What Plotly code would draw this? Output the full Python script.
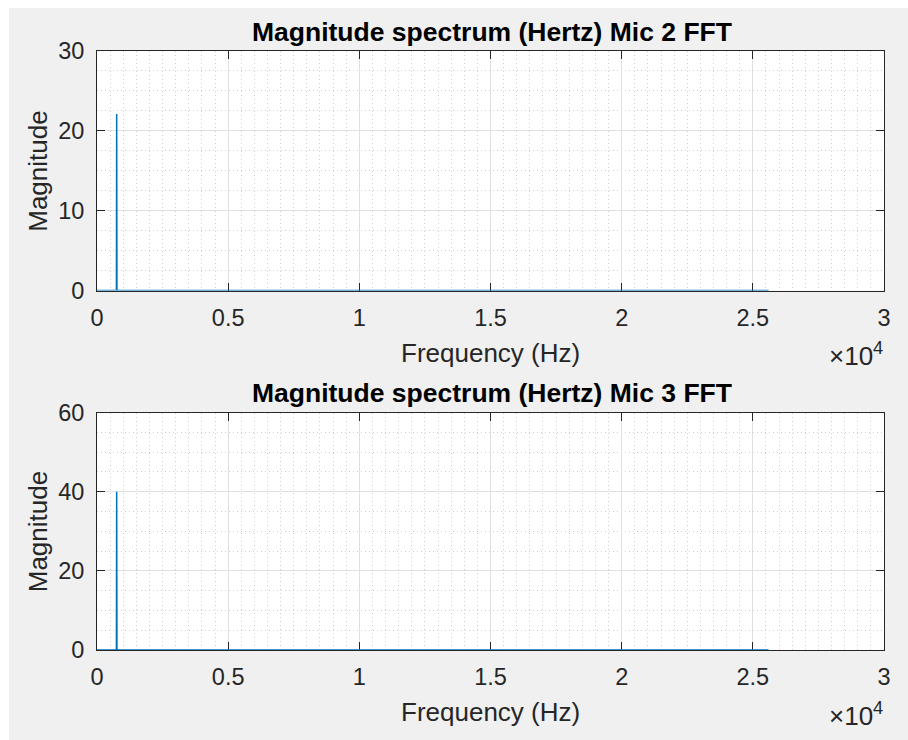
import plotly.graph_objects as go

# ---------------- data ----------------
freq_mic2 = [0, 740, 750, 760, 25600]
mag_mic2 = [0, 0, 22.1, 0, 0]
freq_mic3 = [0, 740, 750, 760, 25600]
mag_mic3 = [0, 0, 40.0, 0, 0]

x_tickvals = [0, 5000, 10000, 15000, 20000, 25000, 30000]
x_ticktext = ["0", "0.5", "1", "1.5", "2", "2.5", "3"]
y1_tickvals = [0, 10, 20, 30]
y2_tickvals = [0, 20, 40, 60]

titles = ["Magnitude spectrum (Hertz) Mic 2 FFT", "Magnitude spectrum (Hertz) Mic 3 FFT"]
xlabel = "Frequency (Hz)"
ylabel = "Magnitude"
exponent = "\u00d710<sup>4</sup>"

# ---------------- layout helpers ----------------
W, H = 908, 740
ML, MR, MT, MB = 97, 24, 51, 90
PW, PH = W - ML - MR, H - MT - MB


def px_x(x):
    return (x - ML) / PW


def px_y(y):
    return (H - MB - y) / PH


FONT = "Liberation Sans, Arial, sans-serif"
AX = "#262626"
BLUE = "#0072BD"
MINOR = "#CFCFCF"
MAJOR = "#E0E0E0"

fig = go.Figure()
fig.add_trace(go.Scatter(x=freq_mic2, y=mag_mic2, mode="lines",
                         line=dict(color=BLUE, width=1.5), xaxis="x", yaxis="y",
                         showlegend=False))
fig.add_trace(go.Scatter(x=freq_mic3, y=mag_mic3, mode="lines",
                         line=dict(color=BLUE, width=1.5), xaxis="x2", yaxis="y2",
                         showlegend=False))

top_bottom_px = 290.5
bot_top_px = 412.5


def xaxis(anchor):
    return dict(
        domain=[0, 1], anchor=anchor, range=[0, 30000],
        tickvals=x_tickvals, ticktext=x_ticktext,
        ticks="inside", ticklen=8, tickcolor=AX, tickwidth=1,
        showline=True, linecolor=AX, linewidth=1, mirror="ticks",
        showgrid=True, gridcolor=MAJOR, gridwidth=1,
        minor=dict(dtick=500, showgrid=True, gridcolor=MINOR, griddash="1px,3px",
                   gridwidth=1, ticks=""),
        zeroline=False, layer="below traces",
        tickfont=dict(family=FONT, size=23.5, color=AX),
        ticklabelstandoff=6,
    )


def yaxis(anchor, domain, rng, tv, minor_dt):
    return dict(
        domain=domain, anchor=anchor, range=rng,
        tickvals=tv,
        ticks="inside", ticklen=8, tickcolor=AX, tickwidth=1,
        showline=True, linecolor=AX, linewidth=1, mirror="ticks",
        showgrid=True, gridcolor=MAJOR, gridwidth=1,
        minor=dict(dtick=minor_dt, showgrid=True, gridcolor=MINOR, griddash="1px,3px",
                   gridwidth=1, ticks=""),
        zeroline=False, layer="below traces",
        tickfont=dict(family=FONT, size=23.5, color=AX),
        ticklabelstandoff=7,
    )


fig.update_layout(
    width=W, height=H,
    margin=dict(l=ML, r=MR, t=MT, b=MB, pad=0),
    paper_bgcolor="#F0F0F0", plot_bgcolor="white",
    xaxis=xaxis("y"),
    yaxis=yaxis("x", [px_y(top_bottom_px), 1], [0, 30], y1_tickvals, 2.5),
    xaxis2=xaxis("y2"),
    yaxis2=yaxis("x2", [0, px_y(bot_top_px)], [0, 60], y2_tickvals, 5),
    showlegend=False,
)

# white border strips (top and left) of the screenshot
fig.add_shape(type="rect", xref="paper", yref="paper",
              x0=px_x(0), x1=px_x(9), y0=px_y(H + 5), y1=px_y(-5),
              fillcolor="white", line=dict(width=0), layer="below")
fig.add_shape(type="rect", xref="paper", yref="paper",
              x0=px_x(0), x1=px_x(W + 5), y0=px_y(8), y1=px_y(-5),
              fillcolor="white", line=dict(width=0), layer="below")

annots = []
plots = [(51.0, 290.5), (412.5, 650.0)]
for i, (ytop, ybot) in enumerate(plots):
    annots.append(dict(text="<b>" + titles[i] + "</b>", xref="paper", yref="paper",
                       x=px_x(492), y=px_y(ytop - 19), xanchor="center", yanchor="middle",
                       showarrow=False, font=dict(family=FONT, size=26.5, color="black")))
    annots.append(dict(text=xlabel, xref="paper", yref="paper",
                       x=px_x(490.5), y=px_y(ybot + 62), xanchor="center", yanchor="middle",
                       showarrow=False, font=dict(family=FONT, size=26, color=AX)))
    annots.append(dict(text=ylabel, xref="paper", yref="paper", textangle=-90,
                       x=px_x(38), y=px_y((ytop + ybot) / 2), xanchor="center", yanchor="middle",
                       showarrow=False, font=dict(family=FONT, size=26, color=AX)))
    annots.append(dict(text=exponent, xref="paper", yref="paper",
                       x=px_x(885), y=px_y(ybot + 64), xanchor="right", yanchor="middle",
                       showarrow=False, font=dict(family=FONT, size=26, color=AX)))
fig.update_layout(annotations=annots)

fig.write_html("out.html")
